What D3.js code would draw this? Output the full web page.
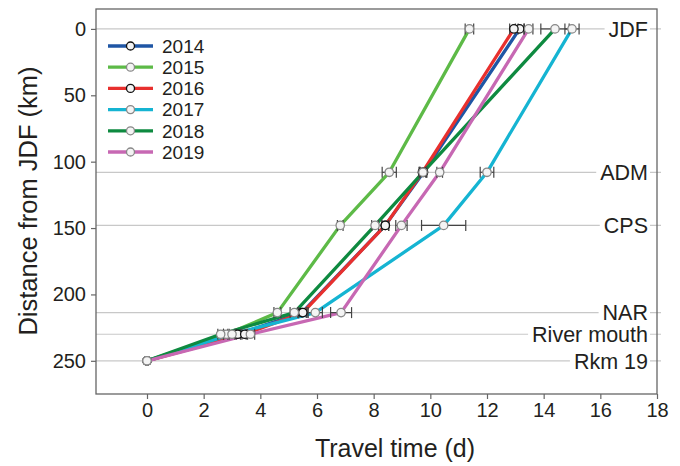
<!DOCTYPE html>
<html>
<head>
<meta charset="utf-8">
<script src="https://cdn.jsdelivr.net/npm/d3@7"></script>
<style>
  html, body { margin: 0; padding: 0; background: #fff; }
  svg { display: block; font-family: "Liberation Sans", Arial, sans-serif; }
</style>
</head>
<body>
<svg id="chart" width="680" height="466"></svg>
<script>
// Monitoring stations along the migration route (distance from JDF, km)
const stations = ["JDF", "ADM", "CPS", "NAR", "River mouth", "Rkm 19"];
const stationKm = [0, 108, 148, 213.7, 230, 250];

const years = ["2014", "2015", "2016", "2017", "2018", "2019"];
const colors = ["#1f56a5", "#5dba47", "#e8302e", "#15b4d2", "#0e8a40", "#c768b3"];

// Mean travel time (d) to each station, per release year
const t2014 = [13.15, 9.76, 8.41, 5.47, 3.2, 0];
const t2015 = [11.38, 8.55, 6.82, 4.6, 2.8, 0];
const t2016 = [12.95, 9.72, 8.41, 5.5, 3.45, 0];
const t2017 = [15.0, 12.0, 10.47, 5.94, 3.0, 0];
const t2018 = [14.4, 9.74, 8.05, 5.2, 2.6, 0];
const t2019 = [13.47, 10.33, 8.98, 6.85, 3.65, 0];

// Half-width of the error bar (d) at each station
const e2014 = [0.15, 0.12, 0.12, 0.15, 0.1, 0];
const e2015 = [0.15, 0.25, 0.1, 0.12, 0.1, 0];
const e2016 = [0.15, 0.12, 0.12, 0.15, 0.1, 0];
const e2017 = [0.25, 0.24, 0.78, 0.25, 0.15, 0];
const e2018 = [0.5, 0.12, 0.12, 0.15, 0.1, 0];
const e2019 = [0.15, 0.1, 0.2, 0.37, 0.15, 0];

const xTicks = [0, 2, 4, 6, 8, 10, 12, 14, 16, 18];
const yTicks = [0, 50, 100, 150, 200, 250];

const times = [t2014, t2015, t2016, t2017, t2018, t2019];
const errs = [e2014, e2015, e2016, e2017, e2018, e2019];
const darkRing = ["2014", "2016"];

const series = years.map((yr, i) => ({
  year: yr,
  color: colors[i],
  pts: stationKm.map((km, j) => ({ km, t: times[i][j], e: errs[i][j] }))
}));

const svg = d3.select("#chart");
const plotL = 96, plotR = 657, plotT = 9, plotB = 394;

const x = d3.scaleLinear().domain([-1.8, 18]).range([plotL, plotR]);
const y = d3.scaleLinear().domain([-15, 275]).range([plotT, plotB]);

const ink = "#231f20";
const frameCol = "#666";

// Station reference lines
svg.append("g").selectAll("line").data(stationKm).join("line")
  .attr("x1", plotL).attr("x2", plotR + 4)
  .attr("y1", d => y(d)).attr("y2", d => y(d))
  .attr("stroke", "#c8c8c8").attr("stroke-width", 1.2);

// Station labels with white backing so the line breaks around them
const lab = svg.append("g");
stations.forEach((s, i) => {
  const t = lab.append("text")
    .attr("x", 648).attr("y", y(stationKm[i]))
    .attr("dy", "0.36em").attr("text-anchor", "end")
    .attr("font-size", 21.5).attr("fill", ink).text(s);
  const bb = t.node().getBBox();
  lab.insert("rect", "text")
    .attr("x", bb.x - 4).attr("y", bb.y + 2).attr("width", bb.width + 6).attr("height", bb.height - 4)
    .attr("fill", "#fff");
});

// Frame
svg.append("rect").attr("x", plotL).attr("y", plotT)
  .attr("width", plotR - plotL).attr("height", plotB - plotT)
  .attr("fill", "none").attr("stroke", frameCol).attr("stroke-width", 1.3);

// Axes
const xAxis = d3.axisBottom(x).tickValues(xTicks).tickSize(5).tickPadding(4).tickFormat(d3.format("d"));
const gx = svg.append("g").attr("transform", `translate(0,${plotB})`).call(xAxis);
const yAxis = d3.axisLeft(y).tickValues(yTicks).tickSize(5).tickPadding(5).tickFormat(d3.format("d"));
const gy = svg.append("g").attr("transform", `translate(${plotL},0)`).call(yAxis);
[gx, gy].forEach(g => {
  g.select(".domain").remove();
  g.selectAll(".tick line").attr("stroke", frameCol).attr("stroke-width", 1.2);
  g.selectAll(".tick text").attr("fill", ink).attr("font-size", 20)
    .attr("font-family", "Liberation Sans, Arial, sans-serif");
});

// Axis titles
svg.append("text").attr("x", 395).attr("y", 457)
  .attr("text-anchor", "middle").attr("font-size", 25).attr("fill", ink)
  .text("Travel time (d)");
svg.append("text").attr("transform", "translate(37,201) rotate(-90)")
  .attr("text-anchor", "middle").attr("font-size", 25.5).attr("fill", ink)
  .text("Distance from JDF (km)");

// Trajectories
const line = d3.line().x(d => x(d.t)).y(d => y(d.km));
svg.append("g").selectAll("path").data(series).join("path")
  .attr("d", d => line(d.pts))
  .attr("fill", "none").attr("stroke", d => d.color).attr("stroke-width", 3.3)
  .attr("stroke-linejoin", "round");

// Error bars
const eb = svg.append("g").attr("stroke", "#444").attr("stroke-width", 1.2);
series.forEach(s => {
  s.pts.filter(p => p.e > 0).forEach(p => {
    const yy = y(p.km);
    eb.append("line").attr("x1", x(p.t - p.e)).attr("x2", x(p.t + p.e)).attr("y1", yy).attr("y2", yy);
    [p.t - p.e, p.t + p.e].forEach(v => {
      eb.append("line").attr("x1", x(v)).attr("x2", x(v)).attr("y1", yy - 5.5).attr("y2", yy + 5.5);
    });
  });
});

// Station means
series.forEach(s => {
  svg.append("g").selectAll("circle").data(s.pts).join("circle")
    .attr("cx", d => x(d.t)).attr("cy", d => y(d.km)).attr("r", 4.2)
    .attr("fill", "#f4f4f4")
    .attr("stroke", darkRing.includes(s.year) ? "#111" : "#888")
    .attr("stroke-width", 1.3);
});

// Legend
const lg = svg.append("g").attr("transform", "translate(108,46)");
series.forEach((s, i) => {
  const row = lg.append("g").attr("transform", `translate(0,${i * 21.2})`);
  row.append("line").attr("x1", 0).attr("x2", 45).attr("y1", 0).attr("y2", 0)
    .attr("stroke", s.color).attr("stroke-width", 3.3);
  row.append("circle").attr("cx", 22.5).attr("cy", 0).attr("r", 4)
    .attr("fill", "#f4f4f4").attr("stroke", darkRing.includes(s.year) ? "#111" : "#888").attr("stroke-width", 1.3);
  row.append("text").attr("x", 54).attr("y", 0).attr("dy", "0.36em")
    .attr("font-size", 19).attr("fill", ink).text(s.year);
});
</script>
</body>
</html>
